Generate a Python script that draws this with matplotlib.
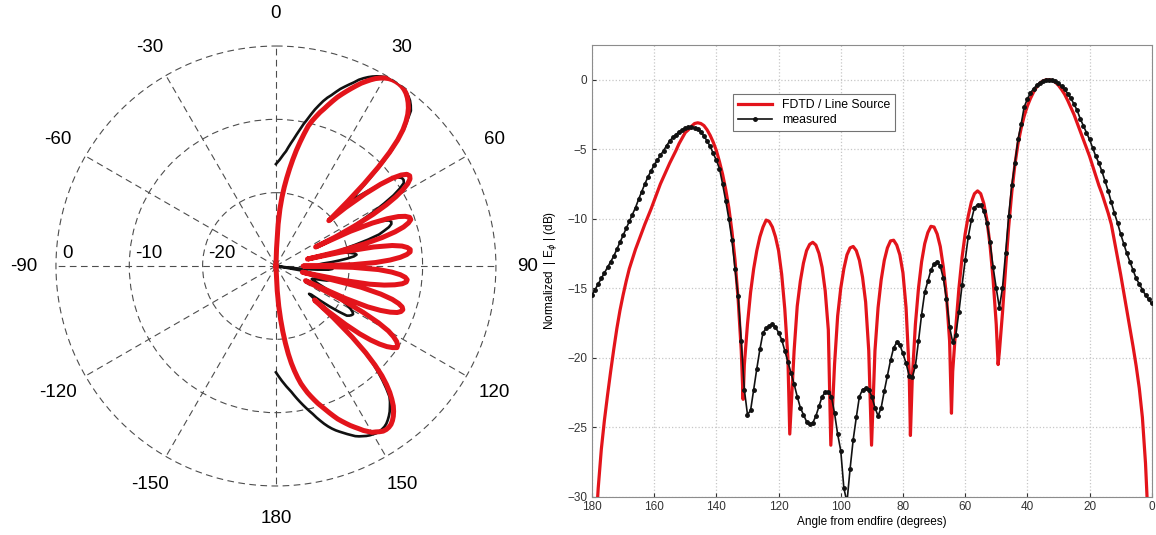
import matplotlib
matplotlib.use('Agg')
import matplotlib.pyplot as plt
import numpy as np

plt.rcParams['font.family'] = ['Liberation Sans', 'DejaVu Sans']

# FDTD / line source (angle from endfire in degrees, normalized dB)
fdtd_deg = [0, 1, 2, 3, 4, 5, 6, 7, 8, 9, 10, 11, 12, 13, 14, 15, 16, 17, 18, 19,
            20, 21, 22, 23, 24, 25, 26, 27, 28, 29, 30, 31, 32, 33, 34, 35, 36, 37, 38, 39,
            40, 41, 42, 43, 44, 45, 46, 47, 48, 49, 49.4, 50, 51, 52, 53, 54, 55, 56, 57, 58,
            59, 60, 61, 62, 63, 64, 64.4, 65, 66, 67, 68, 69, 70, 71, 72, 73, 74, 75, 76, 77,
            77.6, 78, 79, 80, 81, 82, 83, 84, 85, 86, 87, 88, 89, 90.1, 91, 92, 93, 94, 95, 96,
            97, 98, 99, 100, 101, 102, 103.2, 104, 105, 106, 107, 108, 109, 110, 111, 112, 113, 114,
            115, 116.4, 117, 118, 119, 120, 121, 122, 123, 124, 125, 126, 127, 128, 129, 130, 131, 131.4,
            132, 133, 134, 135, 136, 137, 138, 139, 140, 141, 142, 143, 144, 145, 146, 147, 148, 149,
            150, 151, 152, 153, 154, 155, 156, 157, 158, 159, 160, 161, 162, 163, 164, 165, 166, 167,
            168, 169, 170, 171, 172, 173, 174, 175, 176, 177, 178, 179, 180]
fdtd_db = [-40, -32.5, -27.6, -24.3, -22.2, -20.6, -19.2, -17.9, -16.6, -15.3, -14.0, -12.8, -11.6, -10.4, -9.6, -8.9, -8.2, -7.6, -6.9, -6.2,
           -5.5, -4.9, -4.3, -3.7, -3.1, -2.5, -2.0, -1.5, -1.05, -0.7, -0.4, -0.18, -0.05, 0.0, -0.01, -0.09, -0.26, -0.52, -0.89, -1.35,
           -1.9, -2.6, -3.5, -4.6, -6.1, -8.1, -10.6, -13.6, -16.8, -19.6, -20.5, -17.6, -14.4, -11.9, -10.1, -8.9, -8.2, -8.0, -8.2, -8.8,
           -9.8, -11.1, -12.8, -15.0, -17.8, -21.0, -24.0, -18.8, -15.6, -13.5, -12.0, -11.1, -10.6, -10.55, -11.0, -11.8, -13.1, -15.0, -17.6, -21.5,
           -25.6, -21.0, -16.4, -13.9, -12.6, -11.9, -11.55, -11.6, -12.1, -13.0, -14.4, -16.4, -19.5, -26.3, -19.5, -16.0, -14.2, -13.0, -12.3, -12.0,
           -12.1, -12.6, -13.6, -15.0, -17.0, -20.5, -26.3, -18.0, -15.2, -13.5, -12.5, -11.9, -11.7, -11.85, -12.3, -13.2, -14.5, -16.3,
           -19.5, -25.5, -20.0, -16.5, -14.0, -12.3, -11.3, -10.6, -10.2, -10.1, -10.6, -11.3, -12.3, -13.6, -15.3, -17.6, -20.5, -23.0,
           -19.5, -15.8, -13.0, -10.9, -9.2, -7.9, -6.8, -5.9, -5.1, -4.5, -4.0, -3.6, -3.3, -3.15, -3.1, -3.15, -3.35, -3.6,
           -3.8, -4.2, -4.6, -5.1, -5.55, -6.0, -6.5, -7.0, -7.5, -8.1, -8.7, -9.3, -9.85, -10.4, -11.0, -11.6, -12.2, -12.9,
           -13.6, -14.5, -15.5, -16.6, -17.9, -19.4, -21.0, -22.7, -24.5, -26.6, -29.4, -33.0, -38.0]

# measured, one sample per degree 0..180
meas_deg = list(range(0, 181))
meas_db = [-16.1, -15.8, -15.5, -15.1, -14.7, -14.3, -13.7, -13.1, -12.5, -11.8,
           -11.1, -10.3, -9.6, -8.8, -8.0, -7.3, -6.6, -6.0, -5.5, -4.9,
           -4.3, -3.8, -3.3, -2.8, -2.2, -1.75, -1.35, -1.0, -0.7, -0.45,
           -0.25, -0.12, -0.03, 0.0, -0.02, -0.1, -0.22, -0.4, -0.65, -0.95,
           -1.4, -1.95, -3.2, -4.3, -6.0, -7.6, -9.8, -12.5, -15.0, -16.4,
           -15.0, -13.5, -11.7, -10.3, -9.45, -9.05, -9.0, -9.2, -10.1, -11.3,
           -13.0, -14.8, -16.7, -18.35, -18.9, -17.8, -15.8, -14.3, -13.4, -13.15,
           -13.25, -13.7, -14.5, -15.3, -16.9, -18.8, -20.6, -21.4, -21.3, -20.4,
           -19.7, -19.1, -18.9, -19.3, -20.2, -21.3, -22.4, -23.6, -24.2, -23.6,
           -22.8, -22.3, -22.2, -22.3, -22.8, -24.3, -25.9, -28.0, -30.4, -29.4,
           -26.7, -25.5, -24.0, -22.8, -22.45, -22.5, -22.8, -23.5, -24.2, -24.7,
           -24.8, -24.6, -24.1, -23.6, -22.8, -21.9, -21.1, -20.3, -19.5, -18.7,
           -18.2, -17.8, -17.6, -17.7, -17.9, -18.2, -19.4, -20.8, -22.3, -23.8,
           -24.1, -22.3, -18.8, -15.6, -13.6, -11.5, -10.0, -8.7, -7.5, -6.4,
           -5.8, -5.3, -4.8, -4.4, -4.05, -3.75, -3.55, -3.45, -3.4, -3.4,
           -3.5, -3.6, -3.75, -3.95, -4.15, -4.4, -4.75, -5.1, -5.45, -5.8,
           -6.15, -6.55, -7.0, -7.5, -8.05, -8.6, -9.2, -9.7, -10.2, -10.7,
           -11.2, -11.7, -12.2, -12.7, -13.1, -13.5, -13.9, -14.3, -14.7, -15.1,
           -15.5]

theta_ticks = [0, 30, 60, 90, 120, 150, 180, 210, 240, 270, 300, 330]
theta_labels = ['0', '30', '60', '90', '120', '150', '180', '-150', '-120', '-90', '-60', '-30']
ring_values = [-20, -10, 0]
ring_labels = ['-20', '-10', '0']

RED = '#e3141b'
BLACK = '#111111'

fig = plt.figure(figsize=(11.56, 5.35), dpi=100)

# ---- left: polar pattern ----
ax1 = fig.add_axes([0.0484, 0.0916, 0.3806, 0.8224], projection='polar')
ax1.set_theta_zero_location('N')
ax1.set_theta_direction(-1)
ax1.set_ylim(-30, 0)

ax1.plot(np.deg2rad(meas_deg), np.maximum(meas_db, -30), color=BLACK, lw=1.9, zorder=3)
ax1.plot(np.deg2rad(fdtd_deg), np.maximum(fdtd_db, -30), color=RED, lw=3.6, zorder=4)

ax1.set_xticks(np.deg2rad(theta_ticks))
ax1.set_xticklabels([])
ax1.set_yticks(ring_values)
ax1.set_yticklabels([])
ax1.grid(True, color='0.3', linestyle=(0, (6, 4)), linewidth=0.8)
for gl in ax1.yaxis.get_gridlines():
    gl.set_clip_on(False)
ax1.spines['polar'].set_visible(False)

for t, lbl in zip(theta_ticks, theta_labels):
    tr = np.deg2rad(t)
    ax1.text(0.5 + 0.573 * np.sin(tr), 0.5 + 0.573 * np.cos(tr), lbl,
             transform=ax1.transAxes, ha='center', va='center', fontsize=13.5)

for r, lbl in zip(ring_values, ring_labels):
    ax1.annotate(lbl, xy=(np.deg2rad(270), r), xytext=(6, 4),
                 textcoords='offset pixels', ha='left', va='bottom', fontsize=13.5)

# ---- right: cartesian pattern ----
ax2 = fig.add_axes([0.5121, 0.0718, 0.4842, 0.8441])
ax2.plot(fdtd_deg, fdtd_db, color=RED, lw=2.3, label='FDTD / Line Source', zorder=3)
ax2.plot(meas_deg, meas_db, color=BLACK, lw=1.2, marker='.', markersize=5,
         label='measured', zorder=4)

ax2.set_xlim(180, 0)
ax2.set_ylim(-30, 2.5)
ax2.set_xticks(np.arange(0, 181, 20))
ax2.set_yticks(np.arange(-30, 1, 5))
ax2.grid(True, color='0.78', linestyle=':', linewidth=0.9)
ax2.tick_params(direction='in', length=3, labelsize=8.5, colors='0.2')
for sp in ax2.spines.values():
    sp.set_color('0.55')
ax2.set_xlabel('Angle from endfire (degrees)', fontsize=8.5, labelpad=2)
ax2.set_ylabel(r'Normalized  | E$_\phi$ | (dB)', fontsize=8.5, labelpad=6)

leg = ax2.legend(loc='upper left', bbox_to_anchor=(0.241, 0.905), fontsize=8.8,
                 fancybox=False, framealpha=1, edgecolor='0.45',
                 handlelength=2.8, borderpad=0.4, labelspacing=0.25)
leg.get_frame().set_linewidth(0.8)

fig.savefig('out.png', dpi=100)
